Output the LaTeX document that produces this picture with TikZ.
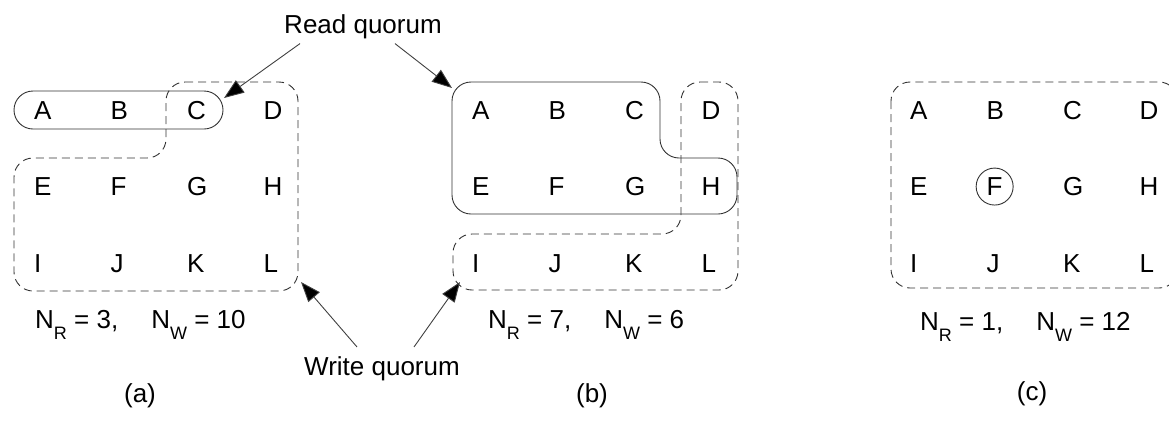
\documentclass[tikz,border=0pt]{standalone}
\usepackage{fontspec}
\setmainfont{Liberation Sans}
\usetikzlibrary{arrows.meta,calc}

\newcommand\qsub[1]{\raisebox{-11pt}{\fontsize{18}{18}\selectfont #1}}

\begin{document}
\begin{tikzpicture}[x=1pt,y=-1pt,font=\fontsize{26}{31}\selectfont,
  every node/.style={inner sep=0pt},
  site/.style={anchor=base west},
  quorum/.style={draw=black!80,line width=0.9pt,rounded corners=19pt},
  wquorum/.style={quorum,dash pattern=on 8pt off 5pt},
  pointer/.style={draw=black!75,line width=0.9pt,-{Triangle[length=20pt,width=15pt,fill=black]}}]
  \useasboundingbox (0,0) rectangle (1169,421);

  % the twelve replicas of each panel
  \foreach \p/\x in {a/34,b/472,c/910}
    \foreach \s [count=\i from 0] in {A,B,C,D,E,F,G,H,I,J,K,L}
      \node[site] (\p\s) at ({\x+mod(\i,4)*76.5},{119+div(\i,4)*76.5}) {\s};

  % (a)
  \draw[quorum] (14,91) rectangle (223,129);
  \draw[wquorum] (166,82) -- (298,82) -- (298,291) -- (14,291) -- (14,158) -- (166,158) -- cycle;
  \node[anchor=base west] (na) at (35,328) {N\qsub{R} = 3,\hspace{33pt}N\qsub{W} = 10};
  \node (capa) at (140,396) {(a)};

  % (b)
  \draw[quorum] (452,82) -- (660,82) -- (660,158) -- (737,158) -- (737,214) -- (452,214) -- cycle;
  \draw[wquorum] (681,82) -- (738,82) -- (738,290) -- (453,290) -- (453,234) -- (681,234) -- cycle;
  \node[anchor=base west] (nb) at (488,328) {N\qsub{R} = 7,\hspace{33pt}N\qsub{W} = 6};
  \node (capb) at (592,396) {(b)};

  % (c)
  \node[quorum,circle,minimum size=37pt] (vote) at (cF) {};
  \draw[wquorum] (891,82) rectangle (1178,288);
  \node[anchor=base west] (nc) at (920,330) {N\qsub{R} = 1,\hspace{33pt}N\qsub{W} = 12};
  \node (capc) at (1032,394) {(c)};

  % labels and pointers
  \node[anchor=base] (rq) at (363,33) {Read quorum};
  \node[anchor=base] (wq) at (382,375) {Write quorum};
  \coordinate (rtipa) at (224,98);
  \coordinate (rtipb) at (452,88);
  \coordinate (wtipa) at (301,282);
  \coordinate (wtipb) at (460,282);

  \draw[pointer] ($(rq.south)+(-63,5)$) -- (rtipa);
  \draw[pointer] ($(rq.south)+(32,5)$) -- (rtipb);
  \draw[pointer] ($(wq.north)+(-25,-9)$) -- (wtipa);
  \draw[pointer] ($(wq.north)+(32,-9)$) -- (wtipb);
\end{tikzpicture}
\end{document}
